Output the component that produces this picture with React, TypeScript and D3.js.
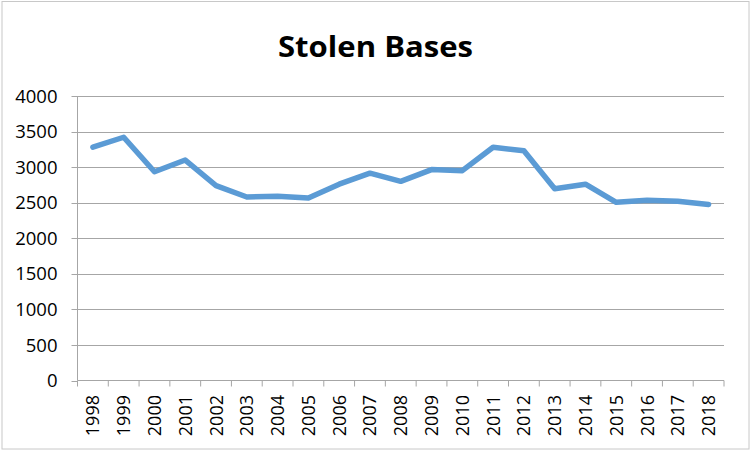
import React from "react";
import * as d3 from "d3";

const years: string[] = ["1998","1999","2000","2001","2002","2003","2004","2005","2006","2007","2008","2009","2010","2011","2012","2013","2014","2015","2016","2017","2018"];
const stolenBases: number[] = [3280,3420,2935,3100,2740,2580,2590,2565,2760,2915,2800,2965,2950,3280,3230,2695,2760,2505,2535,2520,2475];
const yTicks: number[] = [0,500,1000,1500,2000,2500,3000,3500,4000];
const title = "Stolen Bases";

const W = 752, H = 452;
const left = 77.5, right = 724, top = 96, bottom = 380.5;

export default function App() {
  const x = d3.scaleBand<string>().domain(years).range([left, right]);
  const y = d3.scaleLinear().domain([0, 4000]).range([bottom, top]);
  const line = d3.line<number>()
    .x((_, i) => (x(years[i]) as number) + x.bandwidth() / 2)
    .y((d) => y(d));
  const grid = "#A6A6A6";
  const font = "'Open Sans', 'Liberation Sans', sans-serif";
  return (
    <svg width={W} height={H} style={{ position: "absolute", left: 0, top: 0, background: "#fff" }}>
      <rect x={2} y={1.5} width={747} height={447.5} fill="#fff" stroke="#C8C8C8" strokeWidth={1} />
      <text x={375.5} y={57} textAnchor="middle" fontFamily={font} fontWeight="bold" fontSize={29} textLength={195} lengthAdjust="spacingAndGlyphs" fill="#000">{title}</text>
      {yTicks.map((t) => (
        <g key={t}>
          {t > 0 && <line x1={left} x2={right} y1={Math.round(y(t)) + 0.5} y2={Math.round(y(t)) + 0.5} stroke={grid} strokeWidth={1} />}
          <line x1={left - 6} x2={left} y1={Math.round(y(t)) + 0.5} y2={Math.round(y(t)) + 0.5} stroke={grid} strokeWidth={1} />
          <text x={57.5} y={y(t)} dy="0.36em" textAnchor="end" fontFamily={font} fontSize={18.5} fill="#000">{t}</text>
        </g>
      ))}
      <line x1={left} x2={left} y1={top} y2={bottom} stroke={grid} strokeWidth={1} />
      <line x1={left} x2={right} y1={bottom} y2={bottom} stroke={grid} strokeWidth={1} />
      {years.map((yr) => (
        <line key={"t" + yr} x1={(x(yr) as number)} x2={(x(yr) as number)} y1={bottom} y2={bottom + 6} stroke={grid} strokeWidth={1} />
      ))}
      <line x1={right} x2={right} y1={bottom} y2={bottom + 6} stroke={grid} strokeWidth={1} />
      {years.map((yr) => {
        const cx = (x(yr) as number) + x.bandwidth() / 2;
        return (
          <text key={yr} transform={`translate(${cx + 6.5},${395}) rotate(-90)`} textAnchor="end" fontFamily={font} fontSize={18} fill="#000">{yr}</text>
        );
      })}
      <path d={line(stolenBases) || ""} fill="none" stroke="#5B9BD5" strokeWidth={5.5} strokeLinejoin="round" strokeLinecap="round" />
    </svg>
  );
}
